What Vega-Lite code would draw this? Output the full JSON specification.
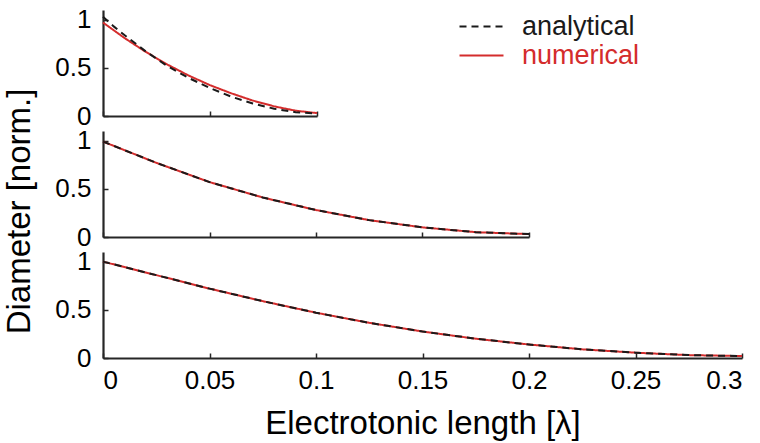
{
  "$schema": "https://vega.github.io/schema/vega-lite/v6.json",
  "background": "white",
  "padding": {"left": 3, "top": 6, "right": 5, "bottom": 5},
  "bounds": "flush",
  "spacing": 15,
  "config": {
    "view": {"stroke": null},
    "font": "Liberation Sans",
    "axis": {"grid": false, "domainColor": "#262626", "domainWidth": 2.2, "tickColor": "#262626", "tickWidth": 1.5, "tickSize": -5, "labelFont": "Liberation Sans", "labelFontSize": 26, "labelColor": "black", "titleFont": "Liberation Sans", "titleFontSize": 33, "titleFontWeight": "normal", "titleColor": "black"},
    "axisX": {"labelPadding": 14},
    "axisY": {"labelPadding": 17}
  },
  "datasets": {
    "d": [
      {"p": 1, "m": "numerical", "x": 0, "d": 0.97},
      {"p": 1, "m": "numerical", "x": 0.005, "d": 0.89},
      {"p": 1, "m": "numerical", "x": 0.01, "d": 0.81},
      {"p": 1, "m": "numerical", "x": 0.02, "d": 0.665},
      {"p": 1, "m": "numerical", "x": 0.03, "d": 0.535},
      {"p": 1, "m": "numerical", "x": 0.04, "d": 0.42},
      {"p": 1, "m": "numerical", "x": 0.05, "d": 0.32},
      {"p": 1, "m": "numerical", "x": 0.06, "d": 0.235},
      {"p": 1, "m": "numerical", "x": 0.07, "d": 0.16},
      {"p": 1, "m": "numerical", "x": 0.08, "d": 0.1},
      {"p": 1, "m": "numerical", "x": 0.09, "d": 0.055},
      {"p": 1, "m": "numerical", "x": 0.1, "d": 0.03},
      {"p": 1, "m": "analytical", "x": 0, "d": 1.03},
      {"p": 1, "m": "analytical", "x": 0.005, "d": 0.93},
      {"p": 1, "m": "analytical", "x": 0.01, "d": 0.84},
      {"p": 1, "m": "analytical", "x": 0.02, "d": 0.67},
      {"p": 1, "m": "analytical", "x": 0.03, "d": 0.52},
      {"p": 1, "m": "analytical", "x": 0.04, "d": 0.395},
      {"p": 1, "m": "analytical", "x": 0.05, "d": 0.29},
      {"p": 1, "m": "analytical", "x": 0.06, "d": 0.2},
      {"p": 1, "m": "analytical", "x": 0.07, "d": 0.13},
      {"p": 1, "m": "analytical", "x": 0.08, "d": 0.075},
      {"p": 1, "m": "analytical", "x": 0.09, "d": 0.04},
      {"p": 1, "m": "analytical", "x": 0.1, "d": 0.025},
      {"p": 2, "m": "numerical", "x": 0, "d": 0.99},
      {"p": 2, "m": "numerical", "x": 0.025, "d": 0.77},
      {"p": 2, "m": "numerical", "x": 0.05, "d": 0.57},
      {"p": 2, "m": "numerical", "x": 0.075, "d": 0.41},
      {"p": 2, "m": "numerical", "x": 0.1, "d": 0.28},
      {"p": 2, "m": "numerical", "x": 0.125, "d": 0.175},
      {"p": 2, "m": "numerical", "x": 0.15, "d": 0.1},
      {"p": 2, "m": "numerical", "x": 0.175, "d": 0.05},
      {"p": 2, "m": "numerical", "x": 0.2, "d": 0.03},
      {"p": 2, "m": "analytical", "x": 0, "d": 0.99},
      {"p": 2, "m": "analytical", "x": 0.025, "d": 0.77},
      {"p": 2, "m": "analytical", "x": 0.05, "d": 0.57},
      {"p": 2, "m": "analytical", "x": 0.075, "d": 0.41},
      {"p": 2, "m": "analytical", "x": 0.1, "d": 0.28},
      {"p": 2, "m": "analytical", "x": 0.125, "d": 0.175},
      {"p": 2, "m": "analytical", "x": 0.15, "d": 0.1},
      {"p": 2, "m": "analytical", "x": 0.175, "d": 0.05},
      {"p": 2, "m": "analytical", "x": 0.2, "d": 0.03},
      {"p": 3, "m": "numerical", "x": 0, "d": 1.0},
      {"p": 3, "m": "numerical", "x": 0.025, "d": 0.86},
      {"p": 3, "m": "numerical", "x": 0.05, "d": 0.72},
      {"p": 3, "m": "numerical", "x": 0.075, "d": 0.59},
      {"p": 3, "m": "numerical", "x": 0.1, "d": 0.47},
      {"p": 3, "m": "numerical", "x": 0.125, "d": 0.365},
      {"p": 3, "m": "numerical", "x": 0.15, "d": 0.275},
      {"p": 3, "m": "numerical", "x": 0.175, "d": 0.2},
      {"p": 3, "m": "numerical", "x": 0.2, "d": 0.14},
      {"p": 3, "m": "numerical", "x": 0.225, "d": 0.09},
      {"p": 3, "m": "numerical", "x": 0.25, "d": 0.055},
      {"p": 3, "m": "numerical", "x": 0.275, "d": 0.03},
      {"p": 3, "m": "numerical", "x": 0.3, "d": 0.02},
      {"p": 3, "m": "analytical", "x": 0, "d": 1.0},
      {"p": 3, "m": "analytical", "x": 0.025, "d": 0.86},
      {"p": 3, "m": "analytical", "x": 0.05, "d": 0.72},
      {"p": 3, "m": "analytical", "x": 0.075, "d": 0.59},
      {"p": 3, "m": "analytical", "x": 0.1, "d": 0.47},
      {"p": 3, "m": "analytical", "x": 0.125, "d": 0.365},
      {"p": 3, "m": "analytical", "x": 0.15, "d": 0.275},
      {"p": 3, "m": "analytical", "x": 0.175, "d": 0.2},
      {"p": 3, "m": "analytical", "x": 0.2, "d": 0.14},
      {"p": 3, "m": "analytical", "x": 0.225, "d": 0.09},
      {"p": 3, "m": "analytical", "x": 0.25, "d": 0.055},
      {"p": 3, "m": "analytical", "x": 0.275, "d": 0.03},
      {"p": 3, "m": "analytical", "x": 0.3, "d": 0.02}
    ]
  },
  "data": {"name": "d"},
  "vconcat": [
    {
      "width": 214, "height": 106,
      "transform": [{"filter": "datum.p == 1"}],
      "encoding": {
        "x": {"field": "x", "type": "quantitative", "scale": {"domain": [0, 0.1], "nice": false, "zero": false}, "axis": {"values": [0, 0.05, 0.1], "labels": false, "title": null}},
        "y": {"field": "d", "type": "quantitative", "scale": {"domain": [0, 1.1], "nice": false}, "axis": {"values": [0, 0.5, 1], "format": "~g", "title": null}},
        "color": {"field": "m", "type": "nominal", "scale": {"domain": ["analytical", "numerical"], "range": ["#1a1a1a", "#d42c2c"]},
          "legend": {"orient": "none", "legendX": 365, "legendY": 3, "title": null, "labelFont": "Liberation Sans", "labelFontSize": 27, "labelColor": {"expr": "datum.value == 'numerical' ? '#d42c2c' : '#1a1a1a'"}, "symbolType": "M-2,0H2", "symbolSize": 484, "symbolStrokeWidth": 2, "labelOffset": 27, "rowPadding": 1}},
        "strokeDash": {"field": "m", "type": "nominal", "scale": {"domain": ["analytical", "numerical"], "range": [[7, 5], [1, 0]]},
          "legend": {"orient": "none", "legendX": 365, "legendY": 3, "title": null, "labelFont": "Liberation Sans", "labelFontSize": 27, "labelColor": {"expr": "datum.value == 'numerical' ? '#d42c2c' : '#1a1a1a'"}, "symbolType": "M-2,0H2", "symbolSize": 484, "symbolStrokeWidth": 2, "labelOffset": 27, "rowPadding": 1}}
      },
      "layer": [
        {"transform": [{"filter": "datum.m == 'numerical'"}], "mark": {"type": "line", "strokeWidth": 2}},
        {"transform": [{"filter": "datum.m == 'analytical'"}], "mark": {"type": "line", "strokeWidth": 2}}
      ]
    },
    {
      "width": 426, "height": 106,
      "transform": [{"filter": "datum.p == 2"}],
      "encoding": {
        "x": {"field": "x", "type": "quantitative", "scale": {"domain": [0, 0.2], "nice": false, "zero": false}, "axis": {"values": [0, 0.05, 0.1, 0.15, 0.2], "labels": false, "title": null}},
        "y": {"field": "d", "type": "quantitative", "scale": {"domain": [0, 1.1], "nice": false}, "axis": {"values": [0, 0.5, 1], "format": "~g", "title": "Diameter [norm.]", "titlePadding": 18, "titleY": 80}},
        "color": {"field": "m", "type": "nominal", "scale": {"domain": ["analytical", "numerical"], "range": ["#1a1a1a", "#d42c2c"]}},
        "strokeDash": {"field": "m", "type": "nominal", "scale": {"domain": ["analytical", "numerical"], "range": [[7, 5], [1, 0]]}}
      },
      "layer": [
        {"transform": [{"filter": "datum.m == 'numerical'"}], "mark": {"type": "line", "strokeWidth": 2}},
        {"transform": [{"filter": "datum.m == 'analytical'"}], "mark": {"type": "line", "strokeWidth": 2}}
      ]
    },
    {
      "width": 639, "height": 106,
      "transform": [{"filter": "datum.p == 3"}],
      "encoding": {
        "x": {"field": "x", "type": "quantitative", "scale": {"domain": [0, 0.3], "nice": false, "zero": false}, "axis": {"values": [0, 0.05, 0.1, 0.15, 0.2, 0.25, 0.3], "format": "~g", "title": "Electrotonic length [λ]", "titlePadding": 14}},
        "y": {"field": "d", "type": "quantitative", "scale": {"domain": [0, 1.1], "nice": false}, "axis": {"values": [0, 0.5, 1], "format": "~g", "title": null}},
        "color": {"field": "m", "type": "nominal", "scale": {"domain": ["analytical", "numerical"], "range": ["#1a1a1a", "#d42c2c"]}},
        "strokeDash": {"field": "m", "type": "nominal", "scale": {"domain": ["analytical", "numerical"], "range": [[7, 5], [1, 0]]}}
      },
      "layer": [
        {"transform": [{"filter": "datum.m == 'numerical'"}], "mark": {"type": "line", "strokeWidth": 2}},
        {"transform": [{"filter": "datum.m == 'analytical'"}], "mark": {"type": "line", "strokeWidth": 2}}
      ]
    }
  ],
  "resolve": {"scale": {"x": "independent", "y": "independent", "color": "shared", "strokeDash": "shared"}}
}
